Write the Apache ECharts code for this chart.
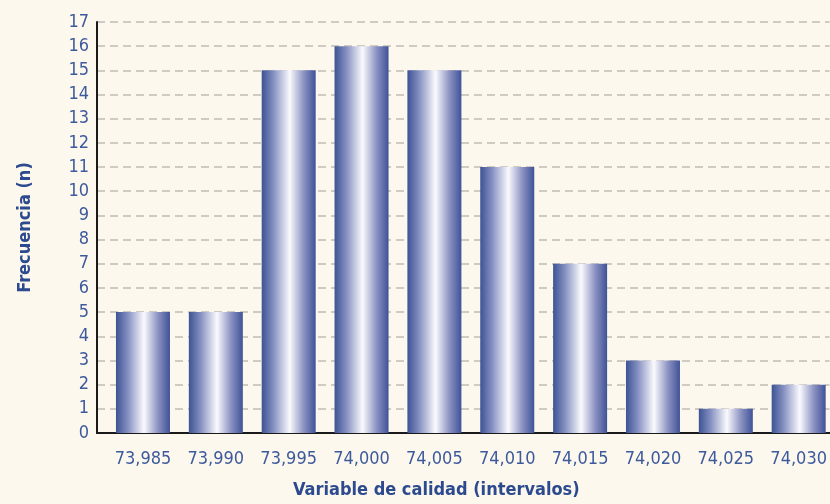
<!DOCTYPE html>
<html>
<head>
<meta charset="utf-8">
<script src="https://cdn.jsdelivr.net/npm/echarts@6/dist/echarts.min.js"></script>
<style>
  html, body { margin: 0; padding: 0; background: #fdf8ee; }
  #chart { width: 830px; height: 504px; }
</style>
</head>
<body>
<div id="chart"></div>
<script>
// Interval labels (class marks) and observed frequencies
const categories = ['73,985', '73,990', '73,995', '74,000', '74,005', '74,010', '74,015', '74,020', '74,025', '74,030'];
const frequencies = [5, 5, 15, 16, 15, 11, 7, 3, 1, 2];
const yTicks = { min: 0, max: 17, step: 1 };

const FONT = '"Liberation Sans Narrow", "DejaVu Sans Condensed", sans-serif';
const LABEL_BLUE = '#3d5a9c';
const TITLE_BLUE = '#2c4a8e';

// Horizontal cylinder-like shading for each bar
const barFill = new echarts.graphic.LinearGradient(0, 0, 1, 0, [
  { offset: 0.00, color: '#3d5394' },
  { offset: 0.22, color: '#8590c1' },
  { offset: 0.52, color: '#fafafd' },
  { offset: 0.78, color: '#8b92c2' },
  { offset: 1.00, color: '#3f5298' }
]);

const chart = echarts.init(document.getElementById('chart'), null, { renderer: 'canvas' });

chart.setOption({
  backgroundColor: '#fdf8ee',
  animation: false,
  grid: { left: 97, right: 0, top: 22, bottom: 66, containLabel: false },
  xAxis: {
    type: 'value',
    min: -0.631,
    max: 9.424,
    axisLine: { show: true, onZero: false, lineStyle: { color: '#1a1a1a', width: 2 } },
    axisTick: { show: false },
    splitLine: { show: false },
    axisLabel: {
      customValues: categories.map((_, i) => i),
      formatter: (v) => categories[Math.round(v)] || '',
      color: LABEL_BLUE,
      fontFamily: FONT,
      fontSize: 18,
      margin: 17
    },
    name: 'Variable de calidad (intervalos)',
    nameLocation: 'middle',
    nameGap: 48,
    nameTextStyle: {
      color: TITLE_BLUE,
      fontFamily: FONT,
      fontWeight: 'bold',
      fontSize: 18,
      padding: [0, 54, 0, 0]
    }
  },
  yAxis: {
    type: 'value',
    min: yTicks.min,
    max: yTicks.max,
    interval: yTicks.step,
    axisLine: { show: true, onZero: false, lineStyle: { color: '#1a1a1a', width: 2 } },
    axisTick: { show: false },
    splitLine: { show: true, lineStyle: { color: '#cfcbc3', width: 2, type: [8, 5] } },
    axisLabel: {
      color: LABEL_BLUE,
      fontFamily: FONT,
      fontSize: 18,
      margin: 8
    },
    name: 'Frecuencia (n)',
    nameLocation: 'middle',
    nameGap: 63,
    nameTextStyle: {
      color: TITLE_BLUE,
      fontFamily: FONT,
      fontWeight: 'bold',
      fontSize: 18
    }
  },
  series: [{
    type: 'bar',
    barWidth: 54,
    data: frequencies.map((v, i) => [i, v]),
    itemStyle: { color: barFill },
    z: 3
  }]
});
</script>
</body>
</html>
